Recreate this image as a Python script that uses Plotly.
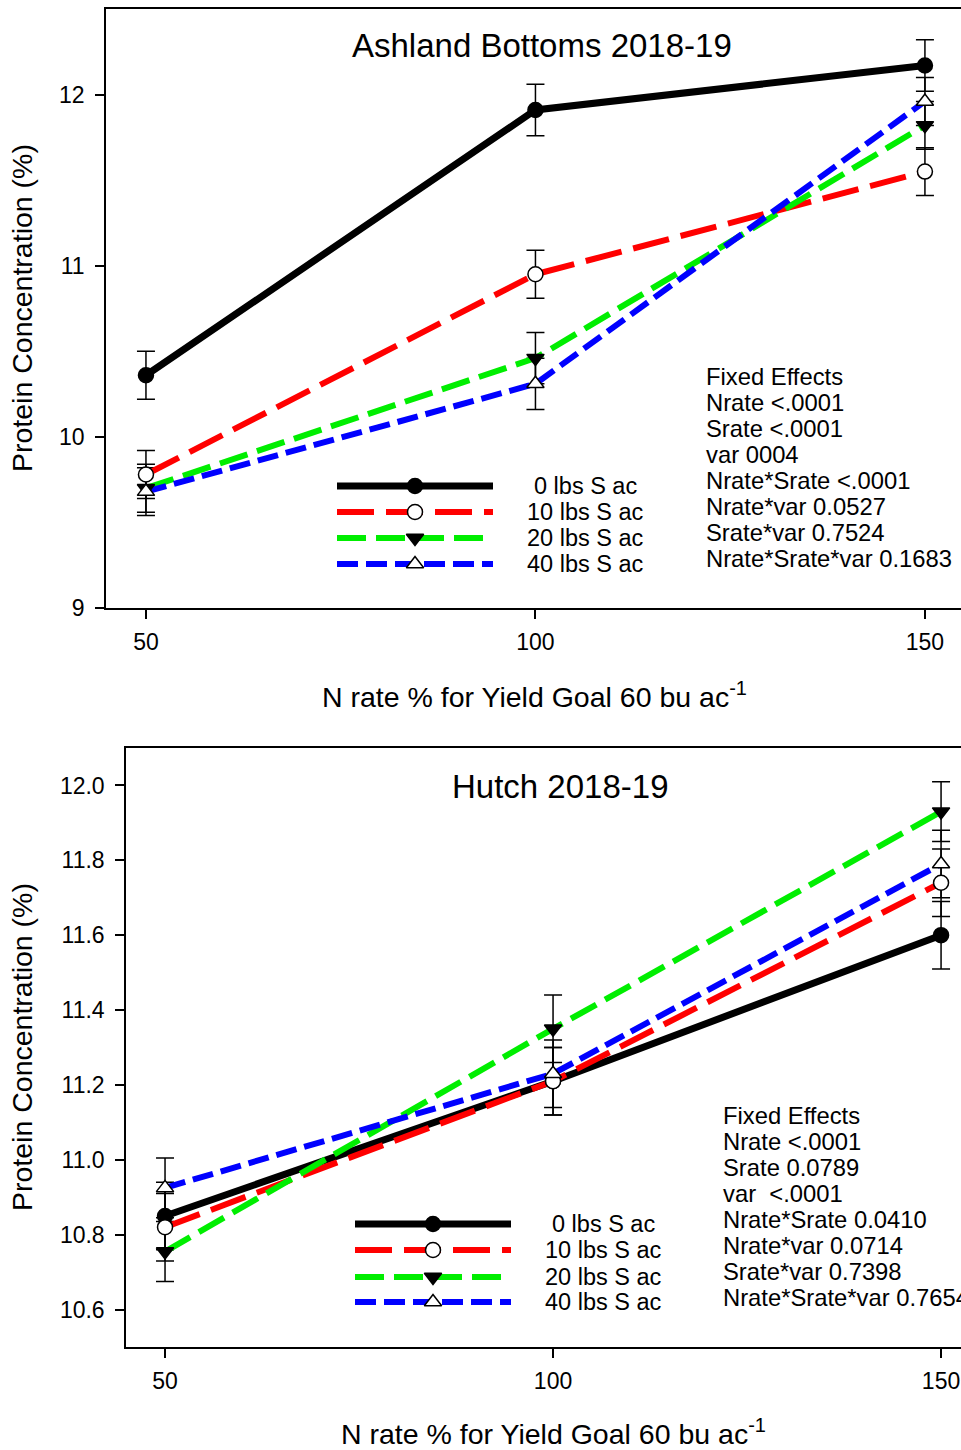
import plotly.graph_objects as go

W, H = 961, 1450          # reference picture size (pixel coordinates below refer to it)
FIG_H = 1463              # compensates a small vertical squeeze of the rendered page

# ---------------- data ----------------
N_RATE = [50, 100, 150]
SERIES = ["0 lbs S ac", "10 lbs S ac", "20 lbs S ac", "40 lbs S ac"]

# Ashland Bottoms 2018-19
AB_0 = [10.36, 11.91, 12.17]
AB_10 = [9.78, 10.95, 11.55]
AB_20 = [9.70, 10.46, 11.82]
AB_40 = [9.68, 10.31, 11.96]
AB_ERR_0 = [0.14, 0.15, 0.15]
AB_ERR_10 = [0.14, 0.14, 0.14]
AB_ERR_20 = [0.14, 0.15, 0.14]
AB_ERR_40 = [0.14, 0.15, 0.14]

# Hutch 2018-19
HU_0 = [10.85, 11.21, 11.60]
HU_10 = [10.82, 11.21, 11.74]
HU_20 = [10.755, 11.35, 11.93]
HU_40 = [10.925, 11.23, 11.79]
HU_ERR_0 = [0.09, 0.09, 0.09]
HU_ERR_10 = [0.09, 0.09, 0.09]
HU_ERR_20 = [0.08, 0.09, 0.08]
HU_ERR_40 = [0.08, 0.09, 0.09]

AB_TICKS = [9, 10, 11, 12]
HU_TICKS = [10.6, 10.8, 11.0, 11.2, 11.4, 11.6, 11.8, 12.0]
X_TICKS = [50, 100, 150]

AB_TITLE = "Ashland Bottoms 2018-19"
HU_TITLE = "Hutch 2018-19"
Y_TITLE = "Protein Concentration (%)"
X_TITLE = "N rate % for Yield Goal 60 bu ac<sup>-1</sup>"

AB_EFFECTS = ["Fixed Effects", "Nrate <.0001", "Srate <.0001", "var 0004",
              "Nrate*Srate <.0001", "Nrate*var 0.0527", "Srate*var 0.7524",
              "Nrate*Srate*var 0.1683"]
HU_EFFECTS = ["Fixed Effects", "Nrate <.0001", "Srate 0.0789", "var \u00a0<.0001",
              "Nrate*Srate 0.0410", "Nrate*var 0.0714", "Srate*var 0.7398",
              "Nrate*Srate*var 0.7654"]

# ---------------- styles ----------------
FONT = "Liberation Sans, Arial, sans-serif"
STYLES = [
    dict(color="black", dash="solid", width=7,
         marker=dict(symbol="circle", color="black", size=15, line=dict(color="black", width=1.5))),
    dict(color="#ff0000", dash="37px,12px", width=6,
         marker=dict(symbol="circle", color="white", size=15, line=dict(color="black", width=1.5))),
    dict(color="#00ee00", dash="29px,10px", width=6,
         marker=dict(symbol="triangle-down", color="black", size=15, line=dict(color="black", width=1.5))),
    dict(color="#0000ff", dash="21px,8px", width=6,
         marker=dict(symbol="triangle-up", color="white", size=15, line=dict(color="black", width=1.5))),
]

def px(x):
    return x / W

def py(y):
    return 1 - y / H

fig = go.Figure()

panels = [
    dict(xa="x", ya="y", data=[AB_0, AB_10, AB_20, AB_40],
         errs=[AB_ERR_0, AB_ERR_10, AB_ERR_20, AB_ERR_40]),
    dict(xa="x2", ya="y2", data=[HU_0, HU_10, HU_20, HU_40],
         errs=[HU_ERR_0, HU_ERR_10, HU_ERR_20, HU_ERR_40]),
]

for p in panels:
    for vals, err in zip(p["data"], p["errs"]):
        fig.add_trace(go.Scatter(
            x=N_RATE, y=vals, xaxis=p["xa"], yaxis=p["ya"], mode="markers",
            marker=dict(size=1, color="rgba(0,0,0,0)"),
            error_y=dict(type="data", array=err, color="black", thickness=1.5, width=9),
            showlegend=False, hoverinfo="skip"))
    for name, vals, st in zip(SERIES, p["data"], STYLES):
        fig.add_trace(go.Scatter(
            x=N_RATE, y=vals, xaxis=p["xa"], yaxis=p["ya"], mode="lines",
            line=dict(color=st["color"], dash=st["dash"], width=st["width"]),
            name=name, showlegend=False))
    for name, vals, st in zip(SERIES, p["data"], STYLES):
        fig.add_trace(go.Scatter(
            x=N_RATE, y=vals, xaxis=p["xa"], yaxis=p["ya"], mode="markers",
            marker=st["marker"], name=name, showlegend=False))

# ---------------- legend samples (pixel overlay axis) ----------------
legends = [
    dict(x0=337, x1=493, xm=415, ys=[486, 512, 538, 564], tx=585),
    dict(x0=355, x1=511, xm=433, ys=[1224, 1250, 1277, 1302], tx=603),
]
annotations = []
for lg in legends:
    for name, st, yy in zip(SERIES, STYLES, lg["ys"]):
        fig.add_trace(go.Scatter(
            x=[lg["x0"], lg["x1"]], y=[yy, yy], xaxis="x3", yaxis="y3", mode="lines",
            line=dict(color=st["color"], dash=st["dash"], width=st["width"]),
            showlegend=False, hoverinfo="skip"))
        fig.add_trace(go.Scatter(
            x=[lg["xm"]], y=[yy], xaxis="x3", yaxis="y3", mode="markers",
            marker=st["marker"], showlegend=False, hoverinfo="skip"))
        annotations.append(dict(x=px(lg["tx"]), y=py(yy), xref="paper", yref="paper",
                                text=name, showarrow=False, xanchor="center", yanchor="middle",
                                font=dict(size=23.5, family=FONT, color="black")))

for lines, x0, y0 in [(AB_EFFECTS, 704, 376), (HU_EFFECTS, 721, 1115)]:
    for i, t in enumerate(lines):
        annotations.append(dict(x=px(x0), y=py(y0 + i * 26.1), xref="paper", yref="paper",
                                text=t, showarrow=False, xanchor="left", yanchor="middle",
                                font=dict(size=23.8, family=FONT, color="black")))

annotations.append(dict(x=px(542), y=py(46), xref="paper", yref="paper", text=AB_TITLE,
                        showarrow=False, xanchor="center", yanchor="middle",
                        font=dict(size=33, family=FONT, color="black")))
annotations.append(dict(x=px(560), y=py(786), xref="paper", yref="paper", text=HU_TITLE,
                        showarrow=False, xanchor="center", yanchor="middle",
                        font=dict(size=33, family=FONT, color="black")))
for xc, yc in [(534, 695), (553, 1432)]:
    annotations.append(dict(x=px(xc), y=py(yc), xref="paper", yref="paper", text=X_TITLE,
                            showarrow=False, xanchor="center", yanchor="middle",
                            font=dict(size=28.5, family=FONT, color="black")))
for xc, yc in [(22, 308), (22, 1047)]:
    annotations.append(dict(x=px(xc), y=py(yc), xref="paper", yref="paper", text=Y_TITLE,
                            showarrow=False, xanchor="center", yanchor="middle", textangle=-90,
                            font=dict(size=28.5, family=FONT, color="black")))

axis_common = dict(showgrid=False, zeroline=False, showline=True, linecolor="black",
                   linewidth=1.5, ticks="outside", ticklen=9, tickwidth=1.5, tickcolor="black",
                   tickfont=dict(size=23, family=FONT, color="black"))

fig.update_layout(
    width=W, height=FIG_H, margin=dict(l=0, r=0, t=0, b=0),
    paper_bgcolor="white", plot_bgcolor="rgba(0,0,0,0)", showlegend=False,
    annotations=annotations,
    xaxis=dict(domain=[px(106), 1], range=[44.87, 154.63], tickvals=X_TICKS,
               mirror=True, anchor="y", ticklabelstandoff=4, **axis_common),
    yaxis=dict(domain=[py(608), py(9)], range=[9, 12.5], tickvals=AB_TICKS,
               anchor="x", ticklabelstandoff=6, **axis_common),
    xaxis2=dict(domain=[px(126), 1], range=[44.97, 152.57], tickvals=X_TICKS,
                mirror=True, anchor="y2", ticklabelstandoff=4, **axis_common),
    yaxis2=dict(domain=[py(1347), py(748)], range=[10.5, 12.1], tickvals=HU_TICKS,
                tickformat=".1f", anchor="x2", ticklabelstandoff=6, **axis_common),
    xaxis3=dict(domain=[0, 1], range=[0, W], visible=False, anchor="y3"),
    yaxis3=dict(domain=[0, 1], range=[H, 0], visible=False, anchor="x3"),
)

fig.write_html(
    "out.html",
    config={"displayModeBar": False},
    post_script=(
        "document.documentElement.style.margin='0px';"
        "document.body.style.margin='0px';"
        "document.body.style.padding='0px';"
    ),
)
